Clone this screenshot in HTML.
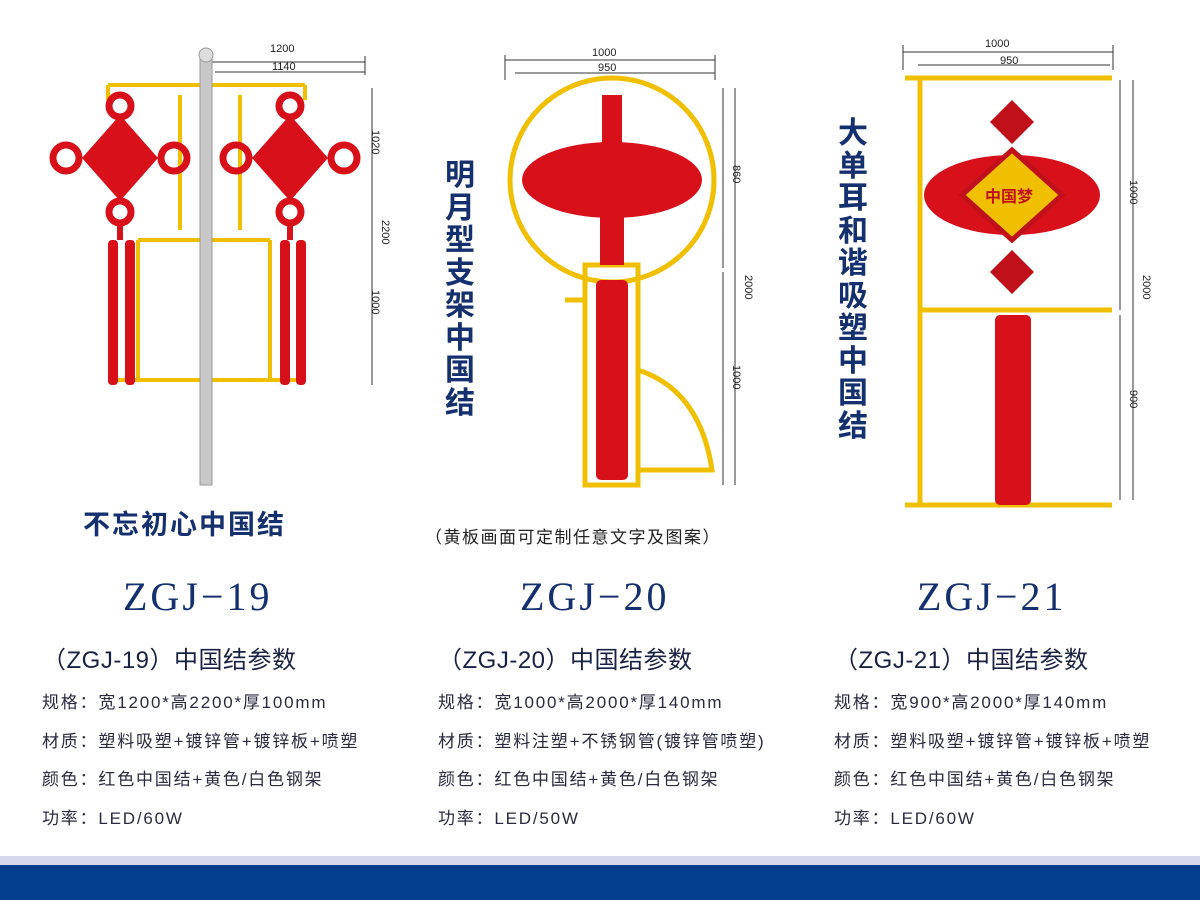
<!DOCTYPE html>
<html><head><meta charset="utf-8"><style>
body{margin:0;width:1200px;height:900px;background:#fff;position:relative;overflow:hidden;font-family:"Liberation Sans","Noto Sans CJK SC",sans-serif;color:#1a2a55}
.a{position:absolute;white-space:nowrap}
.m{font-family:"Liberation Serif","Noto Serif CJK SC",serif;font-size:40px;letter-spacing:3px;color:#14306e}
.t{font-size:24px;color:#1a2244;letter-spacing:0.5px}
.s{font-size:17px;color:#2a2a40;line-height:38.5px;letter-spacing:1.8px}
.v{font-size:30px;font-weight:bold;color:#14306e;line-height:32.5px;width:36px;white-space:normal;text-align:center}
</style></head><body>
<svg class="a" style="left:0;top:0" width="1200" height="860">
<g fill="none" stroke="#333" stroke-width="1">
<line x1="210" y1="62" x2="365" y2="62"/><line x1="210" y1="56" x2="210" y2="75"/><line x1="365" y1="56" x2="365" y2="75"/>
<line x1="215" y1="72" x2="365" y2="72"/>
<line x1="372" y1="88" x2="372" y2="385"/>
<line x1="505" y1="60" x2="715" y2="60"/><line x1="515" y1="73" x2="715" y2="73"/>
<line x1="505" y1="55" x2="505" y2="80"/><line x1="715" y1="55" x2="715" y2="80"/>
<line x1="735" y1="88" x2="735" y2="485"/><line x1="723" y1="88" x2="723" y2="268"/><line x1="723" y1="272" x2="723" y2="485"/>
<line x1="903" y1="52" x2="1113" y2="52"/><line x1="918" y1="65" x2="1110" y2="65"/>
<line x1="903" y1="45" x2="903" y2="70"/><line x1="1113" y1="45" x2="1113" y2="70"/>
<line x1="1133" y1="80" x2="1133" y2="500"/><line x1="1120" y1="80" x2="1120" y2="310"/><line x1="1120" y1="315" x2="1120" y2="500"/>
</g>
<g font-size="11" fill="#222" font-family="Liberation Sans">
<text x="270" y="52">1200</text><text x="272" y="70">1140</text>
<text x="592" y="56">1000</text><text x="598" y="71">950</text>
<text x="985" y="47">1000</text><text x="1000" y="64">950</text>
</g>
<g font-size="11" fill="#222" font-family="Liberation Sans">
<text transform="translate(372,130) rotate(90)">1020</text>
<text transform="translate(382,220) rotate(90)">2200</text>
<text transform="translate(372,290) rotate(90)">1000</text>
<text transform="translate(733,165) rotate(90)">860</text>
<text transform="translate(745,275) rotate(90)">2000</text>
<text transform="translate(733,365) rotate(90)">1000</text>
<text transform="translate(1130,180) rotate(90)">1000</text>
<text transform="translate(1143,275) rotate(90)">2000</text>
<text transform="translate(1130,390) rotate(90)">900</text>
</g>
<!-- ZGJ-19 -->
<g fill="none" stroke="#f0c000" stroke-width="4">
<path d="M108 85 H305 M138 240 H270 M108 380 H305 M138 240 V380 M270 240 V380 M180 95 V230 M240 95 V230 M108 85 V100 M305 85 V100"/>
</g>
<rect x="200" y="55" width="12" height="430" fill="#c8c8c8" stroke="#999"/>
<circle cx="206" cy="55" r="7" fill="#ddd" stroke="#999"/>
<g fill="#d8101a">
<rect x="108" y="240" width="10" height="145" rx="4"/><rect x="125" y="240" width="10" height="145" rx="4"/>
<rect x="280" y="240" width="10" height="145" rx="4"/><rect x="296" y="240" width="10" height="145" rx="4"/>
<path d="M120 115 l38 43 l-38 43 l-38 -43 z"/>
<path d="M290 115 l38 43 l-38 43 l-38 -43 z"/>
</g>
<g fill="none" stroke="#d8101a" stroke-width="7">
<circle cx="120" cy="106" r="11"/><circle cx="120" cy="212" r="11"/><circle cx="66" cy="158" r="13"/><circle cx="174" cy="158" r="13"/>
<circle cx="290" cy="106" r="11"/><circle cx="290" cy="212" r="11"/><circle cx="236" cy="158" r="13"/><circle cx="344" cy="158" r="13"/>
</g>
<line x1="120" y1="222" x2="120" y2="240" stroke="#d8101a" stroke-width="6"/><line x1="290" y1="222" x2="290" y2="240" stroke="#d8101a" stroke-width="6"/>
<!-- ZGJ-20 -->
<circle cx="612" cy="180" r="102" fill="none" stroke="#f0c000" stroke-width="5"/>
<path d="M585 265 H638 V485 H585 Z M565 300 H585 M638 370 Q700 390 712 470 H638" fill="none" stroke="#f0c000" stroke-width="5"/>
<rect x="596" y="280" width="32" height="200" fill="#d8101a" rx="5"/>
<ellipse cx="612" cy="180" rx="90" ry="38" fill="#d8101a"/>
<rect x="602" y="95" width="20" height="60" fill="#d8101a"/><rect x="600" y="215" width="24" height="50" fill="#d8101a"/>
<!-- ZGJ-21 -->
<path d="M905 78 H1112 M920 78 V505 M905 505 H1112 M920 310 H1112" fill="none" stroke="#f0c000" stroke-width="5"/>
<path d="M1012 100 l22 22 l-22 22 l-22 -22 z M1012 250 l22 22 l-22 22 l-22 -22 z" fill="#c0101a"/>
<ellipse cx="1012" cy="195" rx="88" ry="40" fill="#d8101a"/>
<path d="M1012 150 l50 45 l-50 45 l-50 -45 z" fill="#f0c000" stroke="#c0101a" stroke-width="5"/>
<text x="985" y="202" font-size="16" fill="#c0101a" font-weight="bold">中国梦</text>
<rect x="995" y="315" width="36" height="190" fill="#d8101a" rx="5"/>
</svg>
<div class="a v" style="left:442px;top:160px">明月型支架中国结</div>
<div class="a v" style="left:835px;top:118px">大单耳和谐吸塑中国结</div>
<div class="a" style="left:83px;top:503px;font-size:27px;font-weight:bold;color:#14306e;letter-spacing:2px">不忘初心中国结</div>
<div class="a" style="left:425px;top:523px;font-size:17px;color:#222;letter-spacing:1.5px">（黄板画面可定制任意文字及图案）</div>
<div class="a m" style="left:123px;top:573px">ZGJ−19</div>
<div class="a m" style="left:520px;top:573px">ZGJ−20</div>
<div class="a m" style="left:917px;top:573px">ZGJ−21</div>
<div class="a t" style="left:42px;top:640px">（ZGJ-19）中国结参数</div>
<div class="a t" style="left:438px;top:640px">（ZGJ-20）中国结参数</div>
<div class="a t" style="left:834px;top:640px">（ZGJ-21）中国结参数</div>
<div class="a s" style="left:42px;top:684px">规格：宽1200*高2200*厚100mm<br>材质：塑料吸塑+镀锌管+镀锌板+喷塑<br>颜色：红色中国结+黄色/白色钢架<br>功率：LED/60W</div>
<div class="a s" style="left:438px;top:684px">规格：宽1000*高2000*厚140mm<br>材质：塑料注塑+不锈钢管(镀锌管喷塑)<br>颜色：红色中国结+黄色/白色钢架<br>功率：LED/50W</div>
<div class="a s" style="left:834px;top:684px">规格：宽900*高2000*厚140mm<br>材质：塑料吸塑+镀锌管+镀锌板+喷塑<br>颜色：红色中国结+黄色/白色钢架<br>功率：LED/60W</div>
<div class="a" style="left:0;top:856px;width:1200px;height:9px;background:#d6d8ee"></div>
<div class="a" style="left:0;top:865px;width:1200px;height:35px;background:#043f8e"></div>
</body></html>
